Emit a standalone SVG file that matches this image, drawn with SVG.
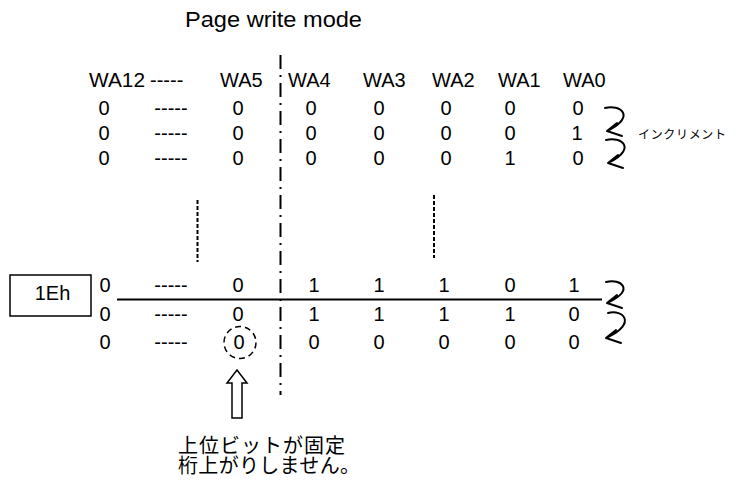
<svg xmlns="http://www.w3.org/2000/svg" width="743" height="483" viewBox="0 0 743 483">
<style>
text{font-family:"Liberation Sans",Arial,sans-serif;fill:#000}
.t{font-size:22px}
.h{font-size:20px}
.d{font-size:20px;text-anchor:middle}
.jp{font-family:"Liberation Sans","Noto Sans CJK JP",sans-serif;font-size:20px}
.sm{font-family:"Liberation Sans","Noto Sans CJK JP",sans-serif;font-size:12px}
.ln{fill:none;stroke:#000;stroke-width:2}
.arr{fill:none;stroke:#000;stroke-width:2;stroke-linecap:round;stroke-linejoin:round}
</style>
<rect width="743" height="483" fill="#fff"/>
<g id="title"><text class="t" x="185" y="27" textLength="177" lengthAdjust="spacingAndGlyphs">Page write mode</text></g>
<g id="header">
<text class="h" x="89" y="87" textLength="56" lengthAdjust="spacingAndGlyphs">WA12</text><text class="h" x="150" y="87">-----</text>
<text class="h" x="220" y="87">WA5</text><text class="h" x="288" y="87">WA4</text>
<text class="h" x="363" y="87">WA3</text><text class="h" x="432" y="87">WA2</text>
<text class="h" x="498" y="87">WA1</text><text class="h" x="563" y="87">WA0</text>
</g>
<g id="row1"><text class="d" x="104" y="115">0</text><text class="d" x="171" y="115">-----</text><text class="d" x="238" y="115">0</text><text class="d" x="311" y="115">0</text><text class="d" x="379" y="115">0</text><text class="d" x="446" y="115">0</text><text class="d" x="510" y="115">0</text><text class="d" x="578" y="115">0</text></g>
<g id="row2"><text class="d" x="104" y="140">0</text><text class="d" x="171" y="140">-----</text><text class="d" x="238" y="140">0</text><text class="d" x="311" y="140">0</text><text class="d" x="379" y="140">0</text><text class="d" x="446" y="140">0</text><text class="d" x="510" y="140">0</text><text class="d" x="577" y="140">1</text></g>
<g id="row3"><text class="d" x="104" y="165">0</text><text class="d" x="171" y="165">-----</text><text class="d" x="238" y="165">0</text><text class="d" x="311" y="165">0</text><text class="d" x="379" y="165">0</text><text class="d" x="446" y="165">0</text><text class="d" x="510" y="165">1</text><text class="d" x="578" y="165">0</text></g>
<g id="row4"><text class="d" x="105" y="292">0</text><text class="d" x="171" y="292">-----</text><text class="d" x="238" y="292">0</text><text class="d" x="314" y="292">1</text><text class="d" x="379" y="292">1</text><text class="d" x="444" y="292">1</text><text class="d" x="510" y="292">0</text><text class="d" x="574" y="292">1</text></g>
<g id="row5"><text class="d" x="105" y="321">0</text><text class="d" x="171" y="321">-----</text><text class="d" x="238" y="321">0</text><text class="d" x="314" y="321">1</text><text class="d" x="379" y="321">1</text><text class="d" x="444" y="321">1</text><text class="d" x="510" y="321">1</text><text class="d" x="574" y="321">0</text></g>
<g id="row6"><text class="d" x="105" y="349">0</text><text class="d" x="171" y="349">-----</text><text class="d" x="239" y="349">0</text><text class="d" x="314" y="349">0</text><text class="d" x="379" y="349">0</text><text class="d" x="444" y="349">0</text><text class="d" x="510" y="349">0</text><text class="d" x="574" y="349">0</text></g>
<g id="box1Eh"><rect x="10" y="275" width="81" height="41" fill="none" stroke="#000" stroke-width="1.5"/><text class="h" x="52.5" y="300" text-anchor="middle">1Eh</text></g>
<g id="fixedBit"><circle cx="240" cy="342.5" r="16" fill="none" stroke="#000" stroke-width="1.5" stroke-dasharray="6 4"/></g>
<g id="upArrow"><path d="M237,370 L247,383 L242,383 L242,418 L232,418 L232,383 L227,383 Z" fill="#fff" stroke="#000" stroke-width="1.5"/></g>
<g id="note">
<text class="jp" x="178" y="453" textLength="167" lengthAdjust="spacing">上位ビットが固定</text>
<text class="jp" x="178" y="473" textLength="182" lengthAdjust="spacing">桁上がりしません。</text>
</g>
<g id="incLabel"><text class="sm" x="638" y="139" textLength="88" lengthAdjust="spacing">インクリメント</text></g>
<g id="connectors">
<line x1="280.5" y1="55" x2="280.5" y2="395" stroke="#000" stroke-width="2" stroke-dasharray="14 6 2 6"/>
<line x1="197.5" y1="200" x2="197.5" y2="262" stroke="#000" stroke-width="2" stroke-dasharray="4 2"/>
<line x1="434" y1="195" x2="434" y2="258" stroke="#000" stroke-width="2" stroke-dasharray="4 2"/>
<line x1="117" y1="299.5" x2="602" y2="299.5" class="ln"/>
<path class="arr" d="M605,108 C620,104 636,116 609,130 M607,131 L617,123 M607,131 L622,136"/>
<path class="arr" d="M606,140 C621,136 637,148 610,162 M608,163 L618,155 M608,163 L623,168"/>
<path class="arr" d="M606,282 C621,278 635,290 609,302 M607,303 L617,295 M607,303 L622,308"/>
<path class="arr" d="M608,313 C623,309 637,323 608,337 M606,338 L616,330 M606,338 L621,343"/>
</g>
</svg>
